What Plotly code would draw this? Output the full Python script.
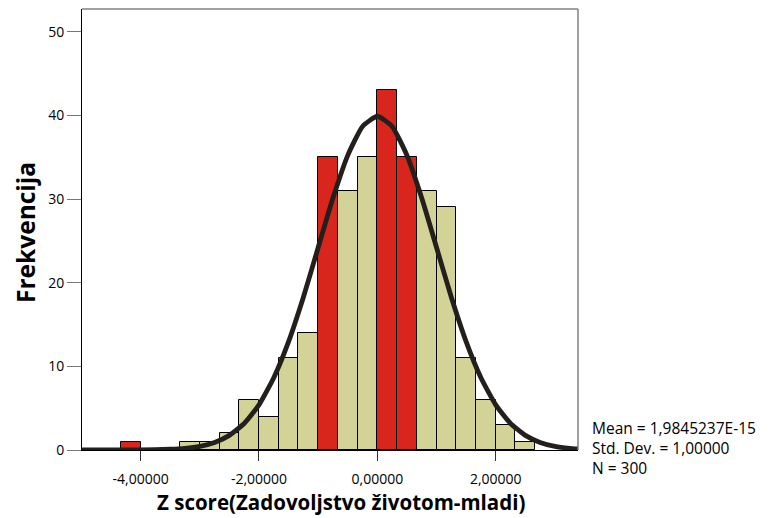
import plotly.graph_objects as go

# Histogram bins (width 1/3), centers and counts
bin_centers = [-4.1667, -3.1667, -2.8333, -2.5, -2.1667, -1.8333, -1.5, -1.1667,
               -0.8333, -0.5, -0.1667, 0.1667, 0.5, 0.8333, 1.1667, 1.5, 1.8333,
               2.1667, 2.5]
counts = [1, 1, 1, 2, 6, 4, 11, 14, 35, 31, 35, 43, 35, 31, 29, 11, 6, 3, 1]
highlighted = [True, False, False, False, False, False, False, False,
               True, False, False, True, True, False, False, False, False,
               False, False]
bin_width = 1 / 3

# Normal curve
curve_x = [-5.0, -4.5, -4.0, -3.5, -3.25, -3.0, -2.75, -2.5, -2.25, -2.0, -1.75,
           -1.5, -1.25, -1.0, -0.75, -0.5, -0.25, 0.0, 0.25, 0.5, 0.75, 1.0,
           1.25, 1.5, 1.75, 2.0, 2.25, 2.5, 2.75, 3.0, 3.25, 3.4]
curve_y = [0.0, 0.0, 0.01, 0.09, 0.2, 0.44, 0.91, 1.75, 3.17, 5.4, 8.63,
           12.95, 18.26, 24.2, 30.11, 35.21, 38.67, 39.89, 38.67, 35.21, 30.11, 24.2,
           18.26, 12.95, 8.63, 5.4, 3.17, 1.75, 0.91, 0.44, 0.2, 0.12]

x_tick_vals = [-4, -2, 0, 2]
x_tick_text = ["-4,00000", "-2,00000", "0,00000", "2,00000"]
y_tick_vals = [0, 10, 20, 30, 40, 50]

stats_lines = ["Mean = 1,9845237E-15", "Std. Dev. = 1,00000", "N = 300"]

TAN = "#d3d397"
RED = "#d9261c"
FONT = "Open Sans"

# page body has an 8px margin, so the figure is sized to fill 770x518 from there
PW, PH = 496, 441  # plot area size in px

fig = go.Figure()
fig.add_trace(go.Bar(
    x=bin_centers, y=counts, width=bin_width,
    marker=dict(color=[RED if h else TAN for h in highlighted],
                line=dict(color="#000000", width=1)),
    showlegend=False, hoverinfo="x+y",
))
fig.add_trace(go.Scatter(
    x=curve_x, y=curve_y, mode="lines",
    line=dict(color="#231f1c", width=4.8, shape="spline", smoothing=0.5),
    showlegend=False,
))

annotations = [
    dict(text="<b>Z score(Zadovoljstvo životom-mladi)</b>", xref="paper", yref="paper",
         x=(341 - 82) / PW, y=-(502 - 450) / PH, xanchor="center", yanchor="middle",
         showarrow=False, font=dict(family=FONT, size=20.5)),
    dict(text="<b>Frekvencija</b>", xref="paper", yref="paper",
         x=-(82 - 25) / PW, y=(450 - 233) / PH, xanchor="center", yanchor="middle",
         textangle=-90, showarrow=False, font=dict(family=FONT, size=24.5)),
    dict(text="<br>".join(stats_lines), xref="paper", yref="paper",
         x=(590 - 82) / PW, y=(450 - 447.5) / PH, xanchor="left", yanchor="middle",
         align="left", showarrow=False, font=dict(family=FONT, size=15.5)),
]

fig.update_layout(
    width=762, height=510,
    margin=dict(l=74, r=192, t=1, b=68, pad=0),
    paper_bgcolor="white", plot_bgcolor="white",
    bargap=0,
    font=dict(family=FONT, size=14, color="#000000"),
    xaxis=dict(range=[-4.99, 3.39], tickvals=x_tick_vals, ticktext=x_tick_text,
               ticks="outside", ticklen=10, tickcolor="#333333", ticklabelstandoff=6,
               showline=True, linecolor="#000000", linewidth=1, mirror=False,
               showgrid=False, zeroline=False, tickfont=dict(size=14)),
    yaxis=dict(range=[0, 52.71], tickvals=y_tick_vals,
               ticks="outside", ticklen=14, tickcolor="#777777",
               showline=True, linecolor="#000000", linewidth=1, mirror=False,
               showgrid=False, zeroline=False, tickfont=dict(size=14)),
    shapes=[
        dict(type="line", xref="paper", yref="paper", x0=0, x1=1, y0=1, y1=1,
             line=dict(color="#808080", width=1.5)),
        dict(type="line", xref="paper", yref="paper", x0=1, x1=1, y0=0, y1=1,
             line=dict(color="#808080", width=1.5)),
    ],
    annotations=annotations,
)

fig.write_html("out.html")
